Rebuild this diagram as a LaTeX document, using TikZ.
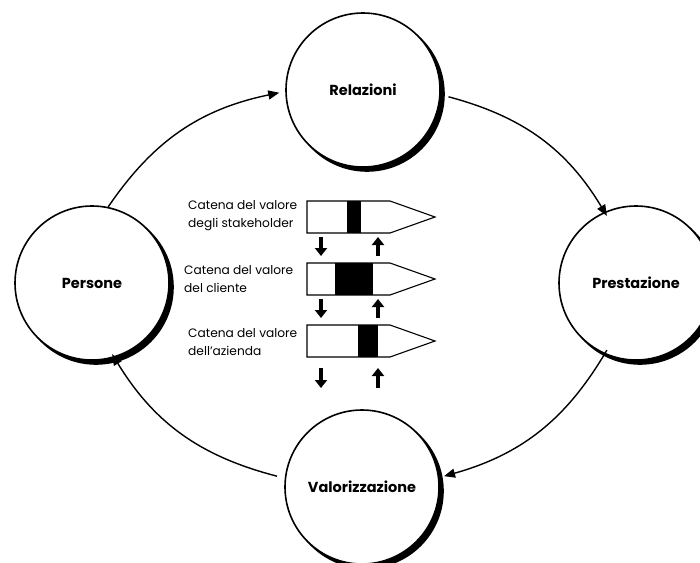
\documentclass[tikz,border=0pt]{standalone}
\usepackage{fontspec}
\setmainfont{Poppins}
\usetikzlibrary{arrows.meta}
\tikzset{
  bigcircle/.style={circle, minimum size=154pt, inner sep=0pt, fill=white, draw=black, line width=1.6pt, font=\fontsize{14.5}{16}\selectfont\bfseries},
  circshadow/.style={circle, minimum size=154pt, inner sep=0pt, fill=black, draw=black, line width=1.6pt},
  cycarrow/.style={line width=1.4pt, -{Triangle[length=11pt,width=9pt]}},
  chainlabel/.style={anchor=west, align=left, inner sep=0pt, font=\fontsize{12.2}{18}\selectfont},
  chainbody/.style={draw=black, line width=1.1pt, fill=white},
  smallarrow/.style={line width=4.5pt, -{Triangle[length=8pt,width=12pt]}},
}
\begin{document}
\begin{tikzpicture}[x=1pt,y=-1pt]
\useasboundingbox (0,0) rectangle (700,562);
% shadows
\node[circshadow] (Rs) at (367,94) {};
\node[circshadow] (Ps) at (96,287) {};
\node[circshadow] (Ss) at (640,287) {};
\node[circshadow] (Vs) at (366,491) {};
% circles
\node[bigcircle] (R) at (363,90) {Relazioni};
\node[bigcircle] (P) at (92,283) {Persone};
\node[bigcircle] (S) at (636,283) {Prestazione};
\node[bigcircle] (V) at (362,487) {Valorizzazione};
% cycle connectors
\draw[cycarrow] (P.78) to[bend left=22] ([xshift=-6pt]R.182);
\draw[cycarrow] ([xshift=8pt]R.-5) to[bend left=22] ([yshift=-5pt]S.112);
\draw[cycarrow] ([yshift=5pt]S.-112) to[bend left=22] ([xshift=5pt]V.8);
\draw[cycarrow] ([xshift=-8pt]V.172) to[bend left=22] ([yshift=4pt]P.-75);
% value chains
\node[chainlabel] (L1) at (188,216) {Catena del valore\\degli stakeholder};
\node[chainlabel] (L2) at (184,279) {Catena del valore\\del cliente};
\node[chainlabel] (L3) at (188,342) {Catena del valore\\dell’azienda};
\draw[chainbody] (307,201) -- (390,201) -- (435,217) -- (390,233) -- (307,233) -- cycle;
\fill[black] (347,201) rectangle (361,233);
\draw[chainbody] (307,263) -- (390,263) -- (435,279) -- (390,295) -- (307,295) -- cycle;
\fill[black] (335,263) rectangle (373,295);
\draw[chainbody] (307,325) -- (390,325) -- (435,341) -- (390,357) -- (307,357) -- cycle;
\fill[black] (358,325) rectangle (378,357);
% small arrows
\coordinate (d1a) at (321,237); \coordinate (d1b) at (321,256);
\coordinate (u1a) at (378,256); \coordinate (u1b) at (378,237);
\coordinate (d2a) at (321,299); \coordinate (d2b) at (321,318);
\coordinate (u2a) at (378,318); \coordinate (u2b) at (378,299);
\coordinate (d3a) at (321,368); \coordinate (d3b) at (321,388);
\coordinate (u3a) at (378,388); \coordinate (u3b) at (378,368);
\draw[smallarrow] (d1a) -- (d1b);
\draw[smallarrow] (u1a) -- (u1b);
\draw[smallarrow] (d2a) -- (d2b);
\draw[smallarrow] (u2a) -- (u2b);
\draw[smallarrow] (d3a) -- (d3b);
\draw[smallarrow] (u3a) -- (u3b);
\end{tikzpicture}
\end{document}
